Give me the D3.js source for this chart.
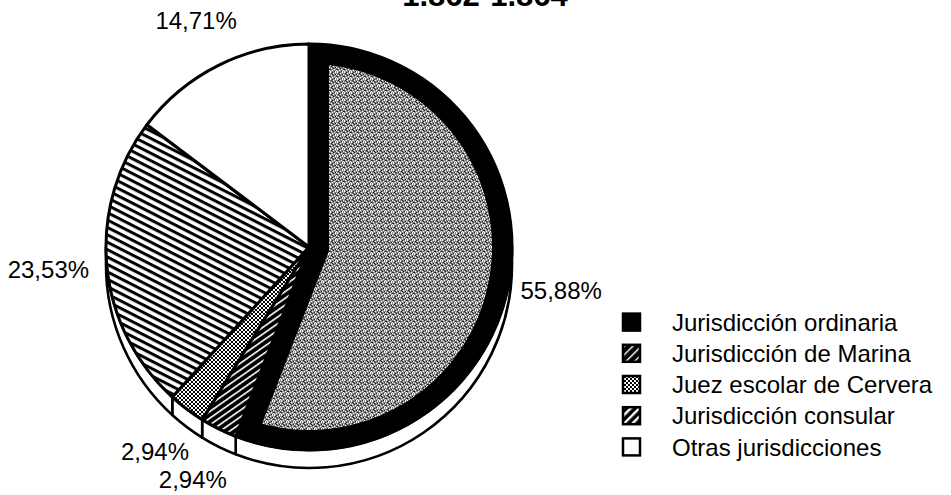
<!DOCTYPE html>
<html>
<head>
<meta charset="utf-8">
<script src="https://cdn.jsdelivr.net/npm/d3@7"></script>
<style>
  html, body { margin: 0; padding: 0; background: #fff; }
  svg { display: block; }
  text { font-family: "Liberation Sans", Arial, Helvetica, sans-serif; fill: #000; }
</style>
</head>
<body>
<svg id="chart" width="951" height="495"></svg>
<script>
// ---- data ----
const title = "1.862-1.864";
const categories = ["Jurisdicción ordinaria", "Jurisdicción de Marina", "Juez escolar de Cervera", "Jurisdicción consular", "Otras jurisdicciones"];
const values = [55.88, 2.94, 2.94, 23.53, 14.71];
const valueLabels = ["55,88%", "2,94%", "2,94%", "23,53%", "14,71%"];

// ---- layout ----
const W = 951, H = 495;
const cx = 309, cy = 247, R = 203, depth = 18;
const fills = ["url(#pOrd)", "url(#pMar)", "url(#pJuez)", "url(#pCons)", "#fff"];
const legendFills = ["#000", "url(#lMar)", "url(#pJuez)", "url(#lCons)", "#fff"];
// label placement: [radius, angle (deg, clockwise from 12 o'clock), anchor]
const labelPolar = [[216, 101.7, "start"], [246, 199.5, "end"], [237, 210.4, "end"], [221, 264.3, "end"], [253, 333.5, "middle"]];

const svg = d3.select("#chart");
const defs = svg.append("defs");

// gray speckle pattern (fixed dither) for the big slice interior
const sp = defs.append("pattern").attr("id", "speck").attr("patternUnits", "userSpaceOnUse")
  .attr("width", 7).attr("height", 7);
sp.append("rect").attr("width", 7).attr("height", 7).attr("fill", "#8a8a8a");
const whites = [[0,0],[3,1],[5,0],[1,3],[4,4],[6,2],[2,5],[5,6],[0,6],[6,5]];
const blacks = [[2,0],[1,1],[5,2],[3,3],[0,4],[6,4],[4,6],[2,2]];
whites.forEach(p => sp.append("rect").attr("x", p[0]).attr("y", p[1]).attr("width", 1).attr("height", 1).attr("fill", "#fff"));
blacks.forEach(p => sp.append("rect").attr("x", p[0]).attr("y", p[1]).attr("width", 1).attr("height", 1).attr("fill", "#222"));

function stripes(id, period, thick, angle, bg, fg) {
  const p = defs.append("pattern").attr("id", id).attr("patternUnits", "userSpaceOnUse")
    .attr("width", period).attr("height", period).attr("patternTransform", `rotate(${angle})`);
  p.append("rect").attr("width", period).attr("height", period).attr("fill", bg);
  p.append("rect").attr("width", period).attr("height", thick).attr("fill", fg);
}
stripes("pCons", 6.6, 3, 27, "#fff", "#000");
stripes("pMar", 5.5, 1.6, -35, "#000", "#fff");
stripes("lCons", 6, 2.4, -45, "#000", "#fff");
stripes("lMar", 6, 1.4, -45, "#000", "#fff");
const pj = defs.append("pattern").attr("id", "pJuez").attr("patternUnits", "userSpaceOnUse")
  .attr("width", 4).attr("height", 4);
pj.append("rect").attr("width", 4).attr("height", 4).attr("fill", "#fff");
pj.append("rect").attr("width", 2).attr("height", 2).attr("fill", "#000");
pj.append("rect").attr("x", 2).attr("y", 2).attr("width", 2).attr("height", 2).attr("fill", "#000");

const pie = d3.pie().sort(null).value(d => d);
const arcs = pie(values);
const arcGen = d3.arc().innerRadius(0).outerRadius(R);

// ---- side walls (3D rim) ----
const wallG = svg.append("g");
arcs.forEach(a => {
  const lo = Math.max(a.startAngle, Math.PI / 2), hi = Math.min(a.endAngle, 3 * Math.PI / 2);
  if (hi <= lo) return;
  const p = d3.path();
  const f0 = lo - Math.PI / 2, f1 = hi - Math.PI / 2;
  p.moveTo(cx + R * Math.cos(f0), cy + R * Math.sin(f0));
  p.arc(cx, cy, R, f0, f1, false);
  p.lineTo(cx + R * Math.cos(f1), cy + depth + R * Math.sin(f1));
  p.arc(cx, cy + depth, R, f1, f0, true);
  p.closePath();
  wallG.append("path").attr("d", p.toString()).attr("fill", "#fff")
    .attr("stroke", "#000").attr("stroke-width", 2.6).attr("stroke-linejoin", "round");
});

// ---- top faces ----
const g = svg.append("g").attr("transform", `translate(${cx},${cy})`);
defs.append("clipPath").attr("id", "clipOrd").append("path").attr("d", arcGen(arcs[0]));
arcs.forEach((a, i) => {
  if (i === 0) {
    g.append("path").attr("d", arcGen(a)).attr("fill", "url(#speck)")
      .attr("stroke", "#000").attr("stroke-width", 40).attr("clip-path", "url(#clipOrd)");
    g.append("path").attr("d", arcGen(a)).attr("fill", "none").attr("stroke", "#000").attr("stroke-width", 3);
  } else {
    g.append("path").attr("d", arcGen(a)).attr("fill", fills[i])
      .attr("stroke", "#000").attr("stroke-width", 3).attr("stroke-linejoin", "round");
  }
});

// ---- value labels ----
arcs.forEach((a, i) => {
  const [r, deg, anchor] = labelPolar[i];
  const t = deg * Math.PI / 180;
  svg.append("text")
    .attr("x", cx + r * Math.sin(t)).attr("y", cy - r * Math.cos(t))
    .attr("dy", "0.36em").attr("text-anchor", anchor)
    .attr("font-size", 24).text(valueLabels[i]);
});

// ---- title (cut at the top edge, as in the reference) ----
svg.append("text").attr("x", 485).attr("y", 6).attr("text-anchor", "middle")
  .attr("font-size", 31).attr("font-weight", "bold").text(title);

// ---- legend ----
const lg = svg.append("g").attr("transform", "translate(622,322)");
const rowY = d3.scaleBand().domain(categories).range([-15.5, 140.5]).paddingInner(0);
categories.forEach((c, i) => {
  const y = rowY(c) + rowY.bandwidth() / 2;
  lg.append("rect").attr("x", 1).attr("y", y - 8.5).attr("width", 17).attr("height", 17)
    .attr("fill", legendFills[i]).attr("stroke", "#000").attr("stroke-width", 2.5);
  lg.append("text").attr("x", 50).attr("y", y).attr("dy", "0.36em")
    .attr("font-size", 24).text(c);
});
</script>
</body>
</html>
